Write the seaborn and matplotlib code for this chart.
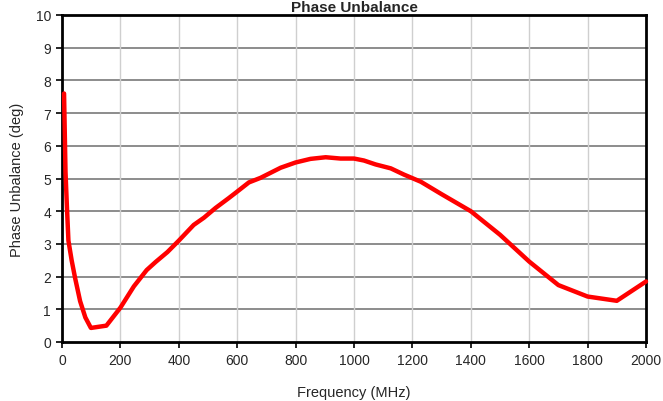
import numpy as np
import pandas as pd
import matplotlib
matplotlib.use("Agg")
import matplotlib.pyplot as plt
import seaborn as sns

# Valeurs
freq_mhz = [7, 12, 17, 22, 33, 45, 62, 80, 99, 152, 200, 246, 290, 321, 361, 400,
            451, 486, 526, 571, 600, 640, 680, 749, 800, 851, 903, 954, 1000,
            1034, 1074, 1126, 1171, 1229, 1300, 1400, 1500, 1600, 1700, 1800,
            1900, 2000]
phase_deg = [7.6, 5.2, 4.1, 3.1, 2.5, 1.95, 1.25, 0.75, 0.43, 0.5, 1.05, 1.7, 2.2,
             2.45, 2.75, 3.1, 3.58, 3.8, 4.1, 4.4, 4.6, 4.88, 5.02, 5.33, 5.49,
             5.6, 5.65, 5.61, 5.61, 5.55, 5.43, 5.31, 5.12, 4.9, 4.52, 4.0, 3.28,
             2.46, 1.74, 1.39, 1.26, 1.85]

x_ticks = np.arange(0, 2001, 200)
y_ticks = np.arange(0, 11, 1)

df = pd.DataFrame({"freq": freq_mhz, "phase": phase_deg})

sns.set_style("white")
plt.rcParams["font.family"] = ["Liberation Sans", "DejaVu Sans"]

fig = plt.figure(figsize=(6.63, 4.02), dpi=100)
ax = fig.add_axes([62 / 663, 1 - 343 / 402, 584 / 663, 327 / 402])

# Grilles : horizontales foncées, verticales claires
for y in y_ticks[1:-1]:
    ax.axhline(y, color="#8c8c8c", lw=1.4, zorder=1)
for x in x_ticks[1:-1]:
    ax.axvline(x, color="#cfcfcf", lw=1.0, zorder=1)

sns.lineplot(data=df, x="freq", y="phase", color="#ff0000", lw=3.2, ax=ax,
             zorder=3, clip_on=False)

ax.set_xlim(0, 2000)
ax.set_ylim(0, 10)
ax.set_xticks(x_ticks)
ax.set_yticks(y_ticks)
ax.tick_params(axis="both", direction="out", length=4, width=1.2, color="black",
               labelsize=10, pad=4, bottom=True, left=True)

for side in ["left", "right", "top", "bottom"]:
    ax.spines[side].set_visible(True)
    ax.spines[side].set_color("black")
    ax.spines[side].set_linewidth(2)

ax.set_xlabel("Frequency (MHz)", fontsize=10.5, labelpad=13)
ax.set_ylabel("Phase Unbalance (deg)", fontsize=10.5, labelpad=8)

# Titre collé au bord supérieur
fig.text((62 + 646) / 2 / 663, 1 - 12 / 402, "Phase Unbalance", ha="center",
         va="baseline", fontsize=11, fontweight="bold")

fig.savefig("out.png", dpi=100)
